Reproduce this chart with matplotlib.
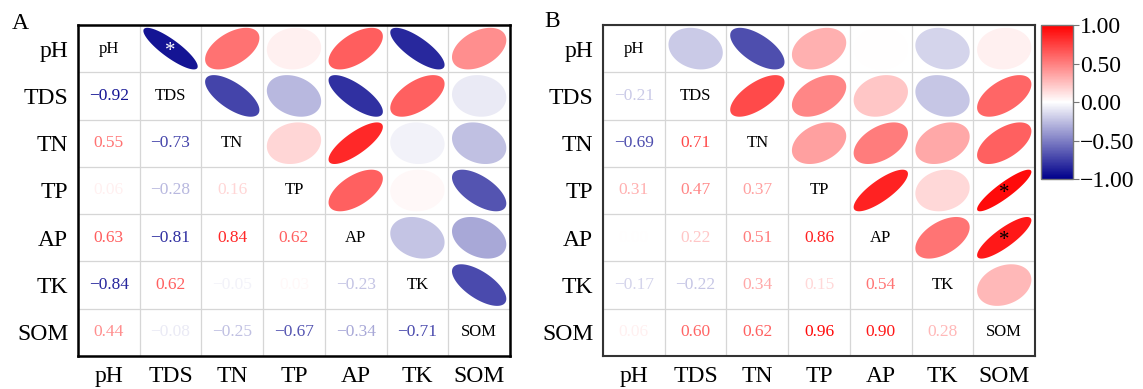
import numpy as np
import matplotlib
matplotlib.use("Agg")
import matplotlib.pyplot as plt
from matplotlib.colors import LinearSegmentedColormap, Normalize

plt.rcParams['font.family'] = ['Liberation Serif', 'DejaVu Serif']

# --- DATA --- #
variables = ["pH", "TDS", "TN", "TP", "AP", "TK", "SOM"]

# lower triangle, row by row (row i has i values)
lower_a = [
    [],
    [-0.92],
    [0.55, -0.73],
    [0.06, -0.28, 0.16],
    [0.63, -0.81, 0.84, 0.62],
    [-0.84, 0.62, -0.05, 0.03, -0.23],
    [0.44, -0.08, -0.25, -0.67, -0.34, -0.71],
]
lower_b = [
    [],
    [-0.21],
    [-0.69, 0.71],
    [0.31, 0.47, 0.37],
    [0.00, 0.22, 0.51, 0.86],
    [-0.17, -0.22, 0.34, 0.15, 0.54],
    [0.06, 0.60, 0.62, 0.96, 0.90, 0.28],
]
# significant cells (row, col) in the upper triangle
stars_a = [(0, 1)]
stars_b = [(3, 6), (4, 6)]
# ---------------- #

cmap = LinearSegmentedColormap.from_list("bwr_corr", ["#00008B", "#FFFFFF", "#FF0000"])
norm = Normalize(-1, 1)


def full_matrix(lower):
    n = len(lower)
    m = np.eye(n)
    for i, row in enumerate(lower):
        for j, v in enumerate(row):
            m[i, j] = v
            m[j, i] = v
    return m


def draw_panel(ax, mat, stars, star_color, spine_color, spine_lw):
    n = len(variables)
    t = np.linspace(0, 2 * np.pi, 120)
    s = 0.44
    for i in range(n):
        for j in range(n):
            r = mat[i, j]
            if i == j:
                ax.text(j, i, variables[i], ha="center", va="center", fontsize=12, color="black")
            elif i > j:
                ax.text(j, i, f"{r:.2f}".replace("-", "\u2212"), ha="center", va="center",
                        fontsize=12.5, color=cmap(norm(r)))
            else:
                # ellipse shape slightly flattened less than a pure r would give
                d = np.arccos(np.clip(0.93 * r, -1, 1))
                ex = np.cos(t + d / 2)
                ey = np.cos(t - d / 2)
                ax.fill(j + s * ex, i - s * ey, color=cmap(norm(r)), lw=0)
                if (i, j) in stars:
                    ax.text(j, i + 0.06, "*", ha="center", va="center", fontsize=15,
                            color=star_color)
    for k in np.arange(-0.5, n, 1.0):
        ax.axhline(k, color="#D6D6D6", lw=0.9, zorder=0)
        ax.axvline(k, color="#D6D6D6", lw=0.9, zorder=0)
    ax.set_xlim(-0.5, n - 0.5)
    ax.set_ylim(n - 0.5, -0.5)
    ax.set_xticks(range(n))
    ax.set_yticks(range(n))
    ax.set_xticklabels(variables, fontsize=17)
    ax.set_yticklabels(variables, fontsize=17)
    ax.tick_params(length=0, pad=7)
    for sp in ax.spines.values():
        sp.set_color(spine_color)
        sp.set_linewidth(spine_lw)


fig = plt.figure(figsize=(11.43, 3.89), dpi=100)
ax1 = fig.add_axes([0.0682, 0.0848, 0.378, 0.851])
ax2 = fig.add_axes([0.5276, 0.0848, 0.378, 0.851])
cax = fig.add_axes([0.9108, 0.5398, 0.028, 0.3959])

draw_panel(ax1, full_matrix(lower_a), stars_a, "white", "black", 1.8)
draw_panel(ax2, full_matrix(lower_b), stars_b, "black", "#333333", 1.5)

sm = plt.cm.ScalarMappable(norm=norm, cmap=cmap)
cb = fig.colorbar(sm, cax=cax, ticks=[-1, -0.5, 0, 0.5, 1])
cb.ax.set_yticklabels([f"{v:.2f}".replace("-", "\u2212") for v in [-1, -0.5, 0, 0.5, 1]],
                      fontsize=17)
cb.outline.set_edgecolor("#777777")
cb.outline.set_linewidth(1)
cb.ax.tick_params(length=4, color="#777777", pad=1)

fig.text(0.010, 0.925, "A", fontsize=17)
fig.text(0.476, 0.93, "B", fontsize=17)

fig.savefig("out.png", dpi=100)
